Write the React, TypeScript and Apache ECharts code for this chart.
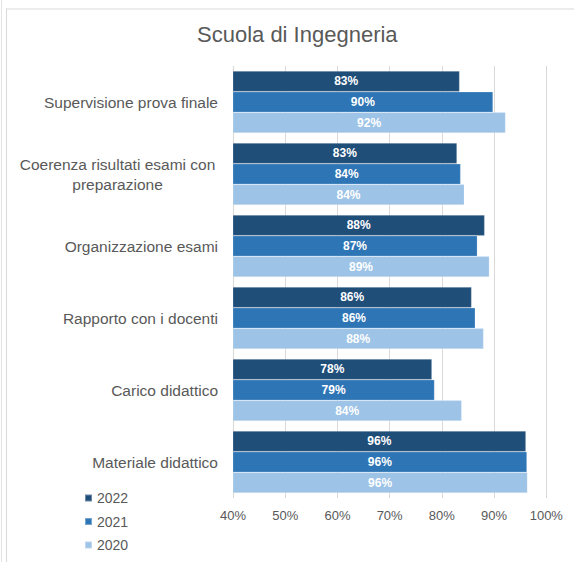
import React, { useEffect, useRef } from "react";
import * as echarts from "echarts";

const categories = [
  "Supervisione prova finale",
  "Coerenza risultati esami con preparazione",
  "Organizzazione esami",
  "Rapporto con i docenti",
  "Carico didattico",
  "Materiale didattico",
];
const years = ["2022", "2021", "2020"];
const values2022 = [83.4, 82.9, 88.2, 85.7, 78.1, 96.1];
const values2021 = [89.8, 83.6, 86.8, 86.4, 78.6, 96.3];
const values2020 = [92.2, 84.3, 89.1, 88.0, 83.8, 96.4];
const xTicks = { min: 40, max: 100, interval: 10 };
const colors = ["#1F4E79", "#2E75B6", "#9DC3E6"];

export default function App() {
  const ref = useRef<HTMLDivElement>(null);
  useEffect(() => {
    if (!ref.current) return;
    const chart = echarts.init(ref.current, null, { renderer: "svg" });
    const seriesValues = [values2022, values2021, values2020];
    const grey = "#595959";
    const font = "'Liberation Sans', Arial, sans-serif";
    chart.setOption({
      animation: false,
      backgroundColor: "#ffffff",
      title: {
        text: "Scuola di Ingegneria",
        left: 192,
        top: 18,
        textStyle: { fontFamily: font, fontSize: 22, fontWeight: "normal", color: grey },
      },
      legend: {
        orient: "vertical",
        left: 79,
        top: 486,
        itemWidth: 7,
        itemHeight: 7,
        itemGap: 9.5,
        icon: "rect",
        data: years,
        textStyle: { fontFamily: font, fontSize: 14, color: grey },
      },
      grid: { left: 233, right: 27.7, top: 66, bottom: 64, containLabel: false },
      xAxis: {
        type: "value",
        min: xTicks.min,
        max: xTicks.max,
        interval: xTicks.interval,
        axisLine: { show: false },
        axisTick: { show: false },
        axisLabel: {
          formatter: "{value}%",
          fontFamily: font,
          fontSize: 13,
          color: grey,
          margin: 11,
        },
        splitLine: { show: true, lineStyle: { color: "#d9d9d9", width: 1 } },
      },
      yAxis: {
        type: "category",
        inverse: true,
        data: categories,
        axisLine: { show: false },
        axisTick: { show: false },
        axisLabel: {
          margin: 15,
          fontFamily: font,
          fontSize: 15.5,
          color: grey,
          formatter: (v: string) =>
            v === "Coerenza risultati esami con preparazione"
              ? "{c|Coerenza risultati esami con}\n{c|preparazione}"
              : v,
          rich: {
            c: {
              width: 201,
              align: "center",
              fontFamily: font,
              fontSize: 15.5,
              color: grey,
              lineHeight: 20,
            },
          },
        },
      },
      series: years.map((y, i) => ({
        name: y,
        type: "bar",
        data: seriesValues[i],
        barGap: "0%",
        barCategoryGap: "14%",
        itemStyle: { color: colors[i], borderColor: "rgba(255,255,255,0.35)", borderWidth: 0.6 },
        label: {
          show: true,
          position: "inside",
          formatter: (p: any) => Math.round(p.value) + "%",
          color: "#ffffff",
          fontFamily: font,
          fontSize: 12,
          fontWeight: "bold",
        },
      })),
      graphic: [
        { type: "line", shape: { x1: 1.5, y1: 0, x2: 1.5, y2: 562 }, style: { stroke: "#e3e3e3", lineWidth: 1 } },
        { type: "line", shape: { x1: 6.5, y1: 9, x2: 6.5, y2: 562 }, style: { stroke: "#d9d9d9", lineWidth: 1 } },
        { type: "line", shape: { x1: 6, y1: 9, x2: 574, y2: 9 }, style: { stroke: "#d9d9d9", lineWidth: 1 } },
      ],
    });
    return () => chart.dispose();
  }, []);
  return (
    <div
      ref={ref}
      style={{ position: "fixed", left: 0, top: 0, width: 574, height: 562 }}
    />
  );
}
